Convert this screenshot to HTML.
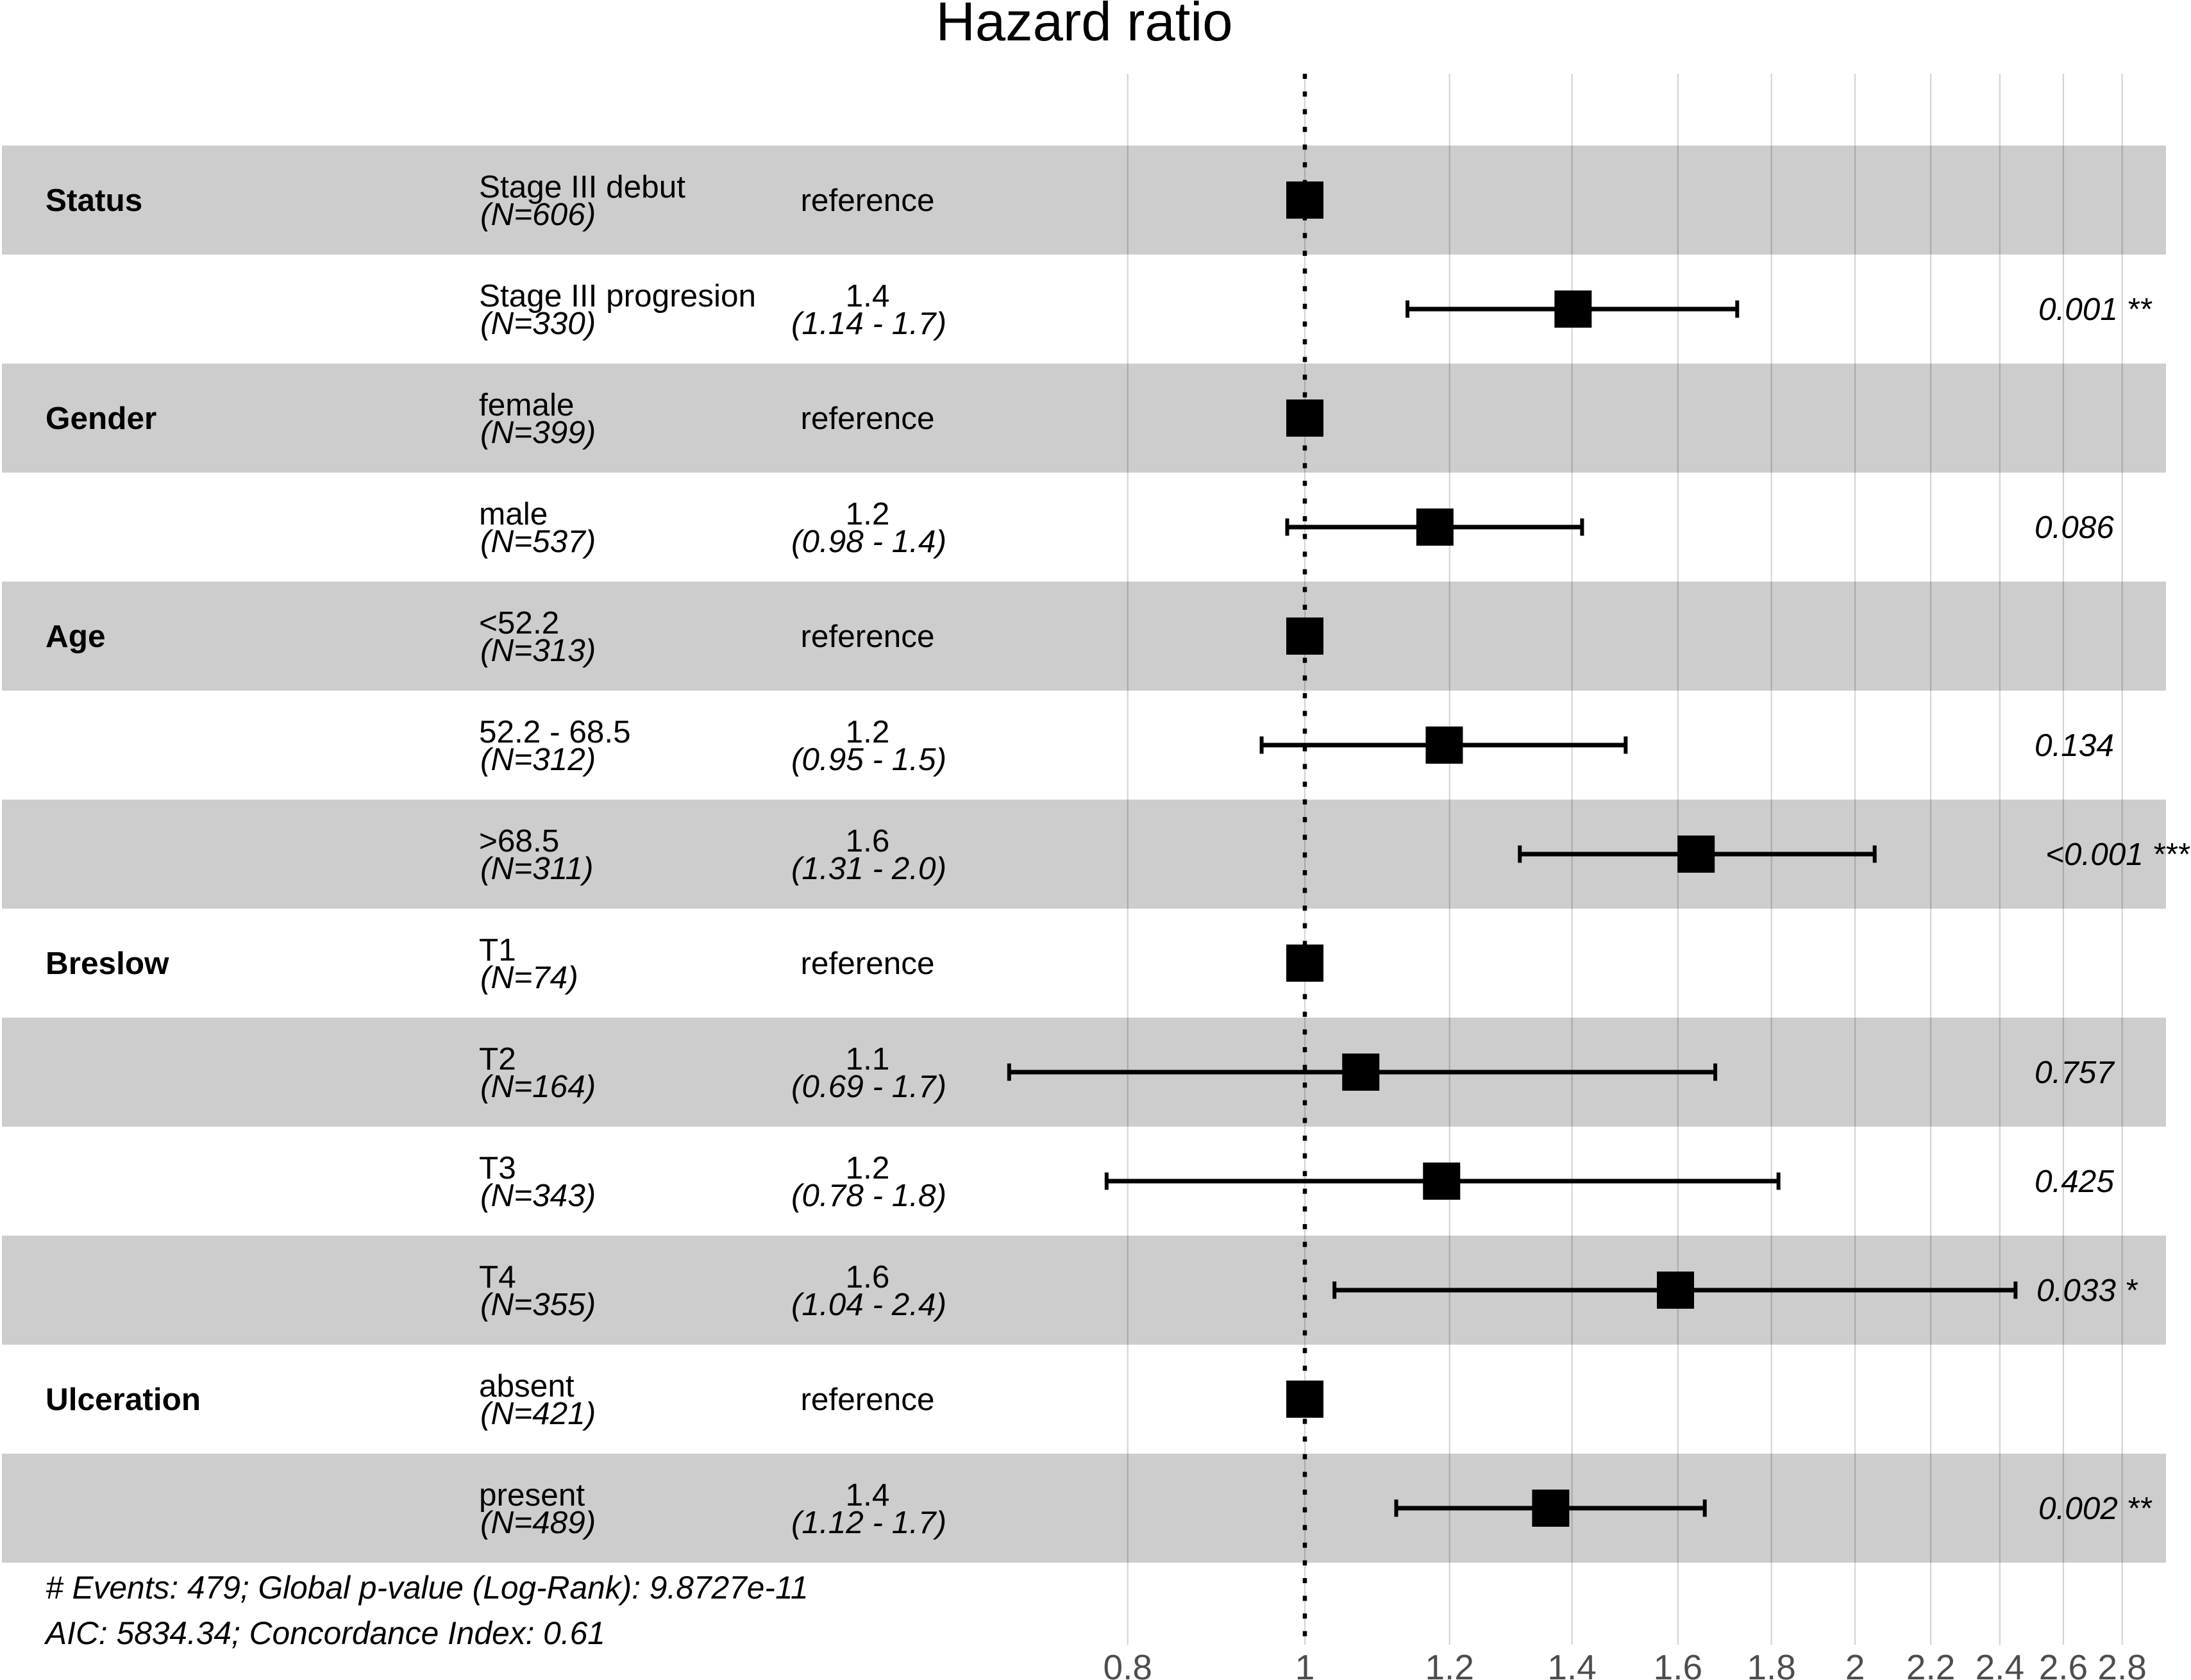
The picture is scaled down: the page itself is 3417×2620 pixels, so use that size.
<!DOCTYPE html>
<html lang="en">
<head>
<meta charset="utf-8">
<title>Hazard ratio forest plot</title>
<style>
  html, body { margin: 0; padding: 0; background: #fff; }
  svg { display: block; font-family: "Liberation Sans", sans-serif; }
</style>
</head>
<body>
<svg id="forest" xmlns="http://www.w3.org/2000/svg" width="3417" height="2620" viewBox="0 0 3417 2620">
  <rect x="0" y="0" width="3417" height="2620" fill="#ffffff"/>
  <g id="bands"></g>
  <g id="grid"></g>
  <line id="refline" stroke="#000" stroke-width="6.5" stroke-dasharray="8 19.6"/>
  <g id="marks"></g>
  <g id="labels"></g>
  <g id="ticks"></g>
  <text x="1691" y="63" font-size="85" text-anchor="middle" fill="#000">Hazard ratio</text>
  <text x="71" y="2493" font-size="49.7" font-style="italic" fill="#000"># Events: 479; Global p-value (Log-Rank): 9.8727e-11</text>
  <text x="71" y="2564" font-size="49.7" font-style="italic" fill="#000">AIC: 5834.34; Concordance Index: 0.61</text>
</svg>
<script>
const groupLabels = ["Status","","Gender","","Age","","","Breslow","","","","Ulceration",""];
const levelLabels = ["Stage III debut","Stage III progresion","female","male","<52.2","52.2 - 68.5",">68.5","T1","T2","T3","T4","absent","present"];
const sampleLabels = ["(N=606)","(N=330)","(N=399)","(N=537)","(N=313)","(N=312)","(N=311)","(N=74)","(N=164)","(N=343)","(N=355)","(N=421)","(N=489)"];
const hrLabels = ["reference","1.4","reference","1.2","reference","1.2","1.6","reference","1.1","1.2","1.6","reference","1.4"];
const ciLabels = ["","(1.14 - 1.7)","","(0.98 - 1.4)","","(0.95 - 1.5)","(1.31 - 2.0)","","(0.69 - 1.7)","(0.78 - 1.8)","(1.04 - 2.4)","","(1.12 - 1.7)"];
const pLabels = ["","0.001","","0.086","","0.134","<0.001","","0.757","0.425","0.033","","0.002"];
const starLabels = ["","**","","","","","***","","","","*","","**"];
const hazardRatios = [1,1.402,1,1.178,1,1.192,1.637,1,1.073,1.188,1.595,1,1.363];
const ciLower = [null,1.138,null,0.978,null,0.947,1.311,null,0.689,0.779,1.038,null,1.122];
const ciUpper = [null,1.724,null,1.418,null,1.498,2.05,null,1.677,1.816,2.448,null,1.655];
const tickValues = [0.8,1,1.2,1.4,1.6,1.8,2,2.2,2.4,2.6,2.8];
const tickLabels = ["0.8","1","1.2","1.4","1.6","1.8","2","2.2","2.4","2.6","2.8"];

const NS = "http://www.w3.org/2000/svg";
const AXIS_ORIGIN_X = 2035, AXIS_SCALE = 1238;
const ROWS_TOP = 227, ROW_H = 170;
const GRID_TOP = 115, GRID_BOTTOM = 2565;
const BOX = 58, CAP_H = 27;
const FONT = 49.5;

function xScale(v) { return AXIS_ORIGIN_X + AXIS_SCALE * Math.log(v); }
function rowCenter(i) { return ROWS_TOP + ROW_H * (i + 0.5); }

function make(parent, tag, attrs, text) {
  const el = document.createElementNS(NS, tag);
  for (const k in attrs) el.setAttribute(k, attrs[k]);
  if (text !== undefined) el.textContent = text;
  parent.appendChild(el);
  return el;
}

const bands = document.getElementById("bands");
const grid = document.getElementById("grid");
const marks = document.getElementById("marks");
const labels = document.getElementById("labels");
const ticks = document.getElementById("ticks");

const refline = document.getElementById("refline");
refline.setAttribute("x1", xScale(1));
refline.setAttribute("x2", xScale(1));
refline.setAttribute("y1", GRID_TOP);
refline.setAttribute("y2", GRID_BOTTOM);

levelLabels.forEach(function (level, i) {
  if (i % 2 === 0) {
    const band = make(bands, "rect", { x: 3, y: ROWS_TOP + ROW_H * i, width: 3375, height: ROW_H, fill: "#cdcdcd" });
    
    
  }
});

tickValues.forEach(function (v, i) {
  const x = xScale(v);
  const line = make(grid, "line", { x1: x, x2: x, y1: GRID_TOP, y2: GRID_BOTTOM, stroke: "#000", "stroke-opacity": 0.17, "stroke-width": 2.2 });
  
  
  const label = make(ticks, "text", { x: x, y: 2619, "font-size": 55, "text-anchor": "middle", fill: "#4d4d4d" }, tickLabels[i]);
  
  
});

hazardRatios.forEach(function (hr, i) {
  const cy = rowCenter(i);
  if (ciLower[i] !== null) {
    const xl = xScale(ciLower[i]), xh = xScale(ciUpper[i]);
    const bar = make(marks, "line", { x1: xl, x2: xh, y1: cy, y2: cy, stroke: "#000", "stroke-width": 7 });
    
    
    const capL = make(marks, "line", { x1: xl, x2: xl, y1: cy - CAP_H / 2, y2: cy + CAP_H / 2, stroke: "#000", "stroke-width": 6 });
    
    
    const capH = make(marks, "line", { x1: xh, x2: xh, y1: cy - CAP_H / 2, y2: cy + CAP_H / 2, stroke: "#000", "stroke-width": 6 });
    
    
  }
  const box = make(marks, "rect", { x: xScale(hr) - BOX / 2, y: cy - BOX / 2, width: BOX, height: BOX, fill: "#000" });
  
  
});

levelLabels.forEach(function (level, i) {
  const cy = rowCenter(i);
  if (groupLabels[i]) {
    const g = make(labels, "text", { x: 71, y: cy + 17, "font-size": 49.5, "font-weight": "bold", fill: "#000" }, groupLabels[i]);
    
    
  }
  const lv = make(labels, "text", { x: 747, y: cy - 4, "font-size": FONT, fill: "#000" }, level);
  
  
  const n = make(labels, "text", { x: 749, y: cy + 39, "font-size": FONT, "font-style": "italic", fill: "#000" }, sampleLabels[i]);
  
  
  const isRef = ciLabels[i] === "";
  const hrText = make(labels, "text", { x: 1353, y: isRef ? cy + 17 : cy - 4, "font-size": FONT, "text-anchor": "middle", fill: "#000" }, hrLabels[i]);
  
  
  if (!isRef) {
    const ci = make(labels, "text", { x: 1355, y: cy + 39, "font-size": FONT, "font-style": "italic", "text-anchor": "middle", fill: "#000" }, ciLabels[i]);
    
    
    const starOffset = { 0: 0, 1: 3, 2: 6, 3: 17 }[starLabels[i].length];
    const ptext = pLabels[i] + (starLabels[i] ? " " + starLabels[i] : "");
    const p = make(labels, "text", { x: 3173 + starOffset, y: cy + 17, "font-size": FONT, "font-style": "italic", fill: "#000" }, ptext);
    
    
  }
});
</script>
</body>
</html>
